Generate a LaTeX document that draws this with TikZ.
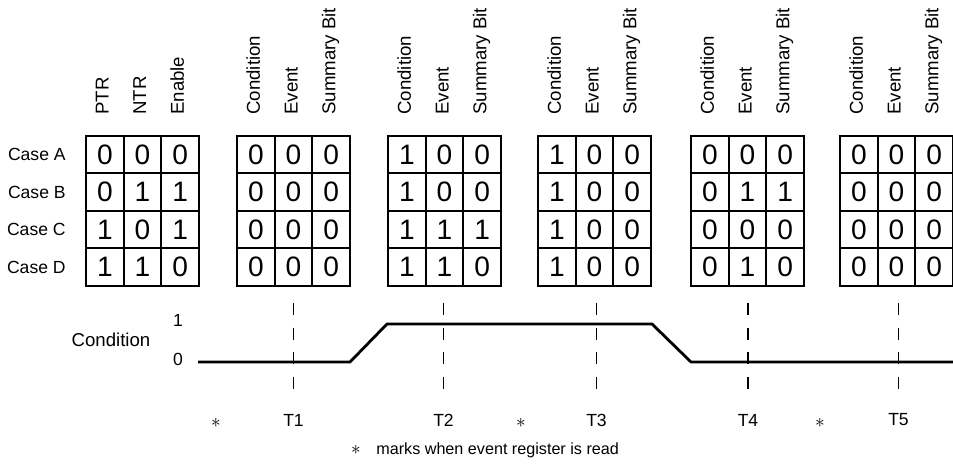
\documentclass[tikz,border=0pt]{standalone}
\usepackage{fontspec}
\setmainfont{Liberation Sans}
% register contents, one row per case
\def\blockA{{0,0,0},{0,1,1},{1,0,1},{1,1,0}}
\def\blockB{{0,0,0},{0,0,0},{0,0,0},{0,0,0}}
\def\blockC{{1,0,0},{1,0,0},{1,1,1},{1,1,0}}
\def\blockD{{1,0,0},{1,0,0},{1,0,0},{1,0,0}}
\def\blockE{{0,0,0},{0,1,1},{0,0,0},{0,1,0}}
\def\blockF{{0,0,0},{0,0,0},{0,0,0},{0,0,0}}
% \register{block}{left edge}{contents}
\newcommand\register[3]{%
    \foreach \row [count=\r] in #3 {
        \foreach \v [count=\c] in \row {
            \node[cell] (b#1-\r-\c) at ({#2+18.85+37.7*(\c-1)},{154.5+37.5*(\r-1)}) {\v};
        }
    }%
}
\begin{document}
\begin{tikzpicture}[x=0.02cm, y=-0.02cm,
    cell/.style={draw, line width=1.1pt, minimum width=0.754cm, minimum height=0.75cm, inner sep=0pt, font=\fontsize{16}{16}\selectfont},
    head/.style={rotate=90, anchor=base west, inner sep=0pt, font=\fontsize{10.6}{10.6}\selectfont},
    case/.style={anchor=east, inner sep=0pt, font=\fontsize{10}{10}\selectfont},
    tick/.style={font=\fontsize{10}{10}\selectfont},
    marker/.style={font=\fontsize{11}{11}\selectfont},
    timeline/.style={dash pattern=on 7pt off 7pt, line width=1.1pt}]
    \useasboundingbox (0,0) rectangle (953,475);

    % Case labels
    \foreach \c [count=\r] in {A,B,C,D} {
        \node[case] (case\c) at (66,{154.5+37.5*(\r-1)}) {Case \c};
    }

    % Registers
    \register{1}{86}{\blockA}
    \register{2}{237}{\blockB}
    \register{3}{388}{\blockC}
    \register{4}{538}{\blockD}
    \register{5}{691}{\blockE}
    \register{6}{840}{\blockF}

    % Column headings
    \node[head] at (108.5,115) {PTR};
    \node[head] at (146.2,115) {NTR};
    \node[head] at (183.9,115) {Enable};
    \foreach \xl in {237,388,538,691,840} {
        \node[head] at ({\xl+22.85},115) {Condition};
        \node[head] at ({\xl+60.55},115) {Event};
        \node[head] at ({\xl+98.25},115) {Summary Bit};
    }

    % Condition waveform
    \node[font=\fontsize{10.6}{10.6}\selectfont] (cond) at (111,340) {Condition};
    \node[tick] (one) at (178,320) {1};
    \node[tick] (zero) at (178,359) {0};
    \coordinate (w0) at (198,362);
    \coordinate (w1) at (350,362);
    \coordinate (w2) at (387,324);
    \coordinate (w3) at (652,324);
    \coordinate (w4) at (691,362);
    \coordinate (w5) at (953,362);
    \draw[line width=1.6pt] (w0) -- (w1) -- (w2) -- (w3) -- (w4) -- (w5);

    % Read times
    \foreach \t/\x in {1/293.5, 2/443.5, 3/596.5, 4/748, 5/898.5} {
        \coordinate (d\t) at (\x,303);
        \node[tick] (t\t) at (\x,420) {T\t};
        \draw[timeline] (d\t) -- ([yshift=5pt]t\t.north);
    }
    \foreach \x [count=\i] in {216,521,820} {
        \node[marker] (ast\i) at (\x,423) {$\ast$};
    }

    % Footnote
    \node[marker] (note) at (356,450) {$\ast$};
    \node[anchor=west, inner sep=0pt, font=\fontsize{9.2}{9.2}\selectfont] (notetext) at (376,450) {marks when event register is read};
\end{tikzpicture}
\end{document}
